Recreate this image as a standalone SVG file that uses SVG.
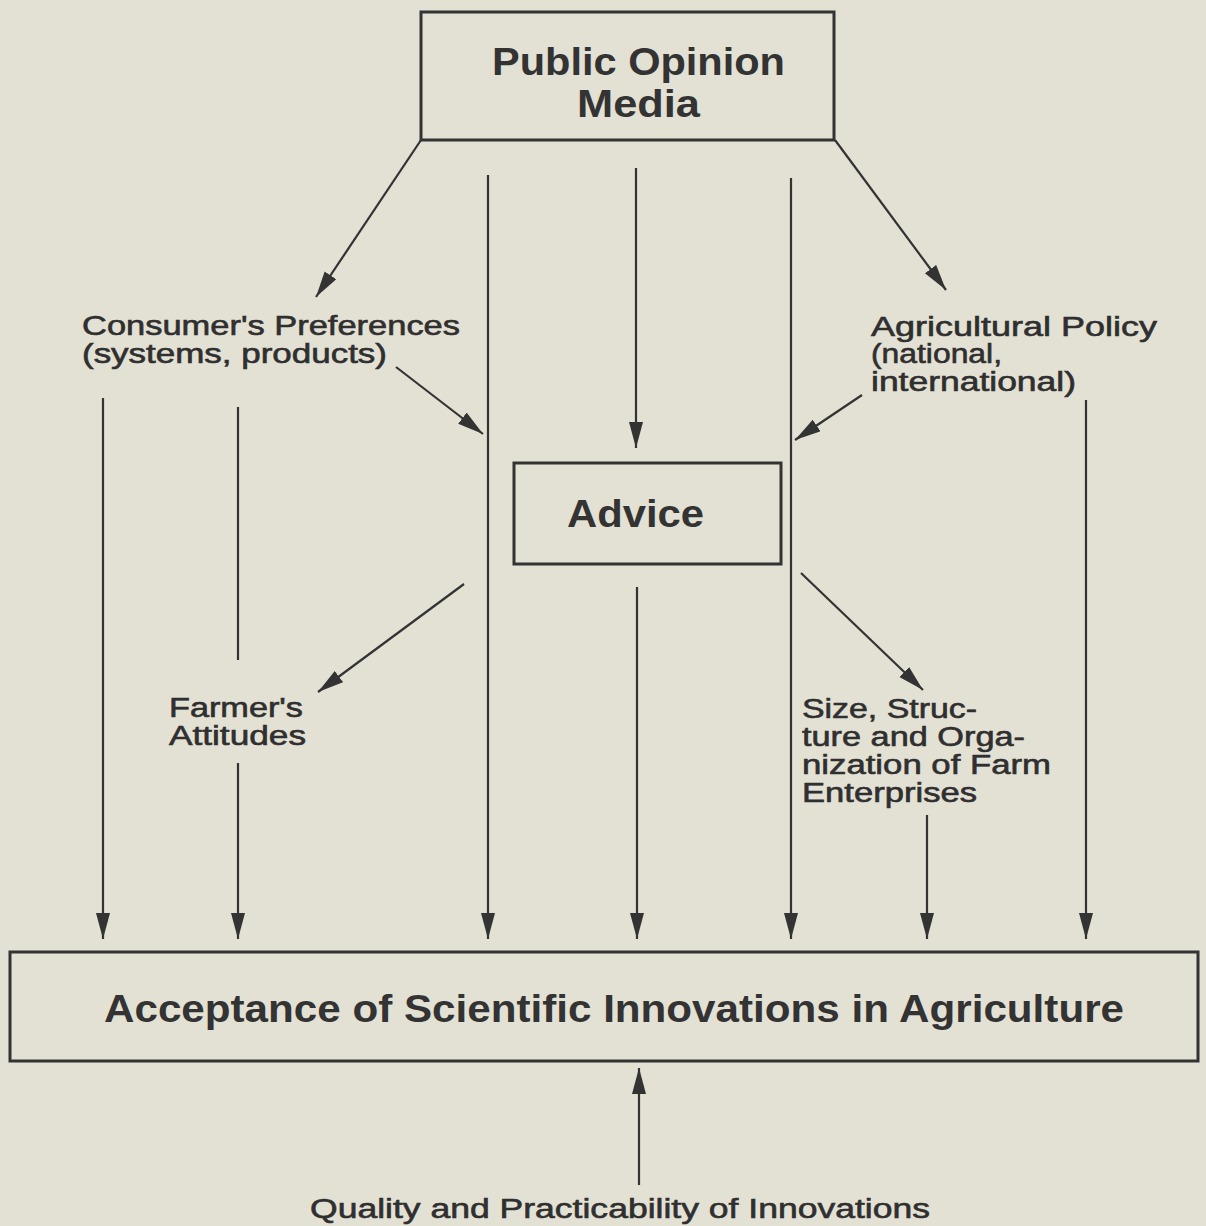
<svg xmlns="http://www.w3.org/2000/svg" width="1206" height="1226" viewBox="0 0 1206 1226">
  <defs>
    <marker id="arrow" markerUnits="userSpaceOnUse" markerWidth="28" markerHeight="16" refX="26" refY="7" orient="auto">
      <path d="M0,0 L26,7 L0,14 Z" fill="#333"/>
    </marker>
    <style>
      .box { fill: none; stroke: #333; stroke-width: 3; }
      .link { fill: none; stroke: #333; stroke-width: 2.2; }
      .arr { marker-end: url(#arrow); }
      .title { font-family: "Liberation Sans", Arial, sans-serif; font-weight: bold; font-size: 38px; fill: #333; }
      .label { font-family: "Liberation Sans", Arial, sans-serif; font-size: 27px; fill: #2f2f2f; stroke: #2f2f2f; stroke-width: 0.6; }
    </style>
  </defs>

  <!-- paper -->
  <rect x="0" y="0" width="1206" height="1226" fill="#e3e0d4"/>

  <!-- connectors -->
  <g id="connectors">
    <line class="link arr" x1="421" y1="140" x2="316" y2="297"/>
    <line class="link arr" x1="835" y1="140" x2="946" y2="290"/>
    <line class="link arr" x1="488" y1="175" x2="488" y2="939"/>
    <line class="link arr" x1="636" y1="168" x2="636" y2="448"/>
    <line class="link arr" x1="791" y1="178" x2="791" y2="939"/>
    <line class="link arr" x1="396" y1="367" x2="483" y2="434"/>
    <line class="link arr" x1="862" y1="395" x2="795" y2="440"/>
    <line class="link arr" x1="103" y1="398" x2="103" y2="939"/>
    <line class="link" x1="238" y1="407" x2="238" y2="660"/>
    <line class="link arr" x1="238" y1="763" x2="238" y2="939"/>
    <line class="link arr" x1="1086" y1="400" x2="1086" y2="939"/>
    <line class="link arr" x1="464" y1="584" x2="318" y2="692"/>
    <line class="link arr" x1="637" y1="587" x2="637" y2="939"/>
    <line class="link arr" x1="801" y1="573" x2="923" y2="690"/>
    <line class="link arr" x1="927" y1="815" x2="927" y2="939"/>
    <line class="link arr" x1="639" y1="1185" x2="639" y2="1068"/>
  </g>

  <!-- Public Opinion / Media -->
  <g id="public-opinion">
    <rect class="box" x="421" y="12" width="413" height="128"/>
    <text class="title" x="492" y="75" textLength="293" lengthAdjust="spacingAndGlyphs">Public Opinion</text>
    <text class="title" x="577" y="117" textLength="123" lengthAdjust="spacingAndGlyphs">Media</text>
  </g>

  <!-- Consumer's Preferences -->
  <g id="consumer-preferences">
    <text class="label" x="82" y="335" textLength="378" lengthAdjust="spacingAndGlyphs">Consumer's Preferences</text>
    <text class="label" x="82" y="363" textLength="305" lengthAdjust="spacingAndGlyphs">(systems, products)</text>
  </g>

  <!-- Agricultural Policy -->
  <g id="agricultural-policy">
    <text class="label" x="871" y="336" textLength="286" lengthAdjust="spacingAndGlyphs">Agricultural Policy</text>
    <text class="label" x="871" y="363" textLength="131" lengthAdjust="spacingAndGlyphs">(national,</text>
    <text class="label" x="871" y="391" textLength="205" lengthAdjust="spacingAndGlyphs">international)</text>
  </g>

  <!-- Advice -->
  <g id="advice">
    <rect class="box" x="514" y="463" width="267" height="101"/>
    <text class="title" x="567" y="527" textLength="137" lengthAdjust="spacingAndGlyphs">Advice</text>
  </g>

  <!-- Farmer's Attitudes -->
  <g id="farmers-attitudes">
    <text class="label" x="169" y="717" textLength="134" lengthAdjust="spacingAndGlyphs">Farmer's</text>
    <text class="label" x="169" y="745" textLength="137" lengthAdjust="spacingAndGlyphs">Attitudes</text>
  </g>

  <!-- Size, Structure and Organization of Farm Enterprises -->
  <g id="farm-structure">
    <text class="label" x="802" y="718" textLength="175" lengthAdjust="spacingAndGlyphs">Size, Struc-</text>
    <text class="label" x="802" y="746" textLength="223" lengthAdjust="spacingAndGlyphs">ture and Orga-</text>
    <text class="label" x="802" y="774" textLength="249" lengthAdjust="spacingAndGlyphs">nization of Farm</text>
    <text class="label" x="802" y="802" textLength="175" lengthAdjust="spacingAndGlyphs">Enterprises</text>
  </g>

  <!-- Acceptance of Scientific Innovations in Agriculture -->
  <g id="acceptance">
    <rect class="box" x="10" y="952" width="1188" height="109"/>
    <text class="title" x="104" y="1022" textLength="1020" lengthAdjust="spacingAndGlyphs">Acceptance of Scientific Innovations in Agriculture</text>
  </g>

  <!-- Quality and Practicability of Innovations -->
  <g id="quality">
    <text class="label" x="310" y="1218" textLength="620" lengthAdjust="spacingAndGlyphs">Quality and Practicability of Innovations</text>
  </g>
</svg>
